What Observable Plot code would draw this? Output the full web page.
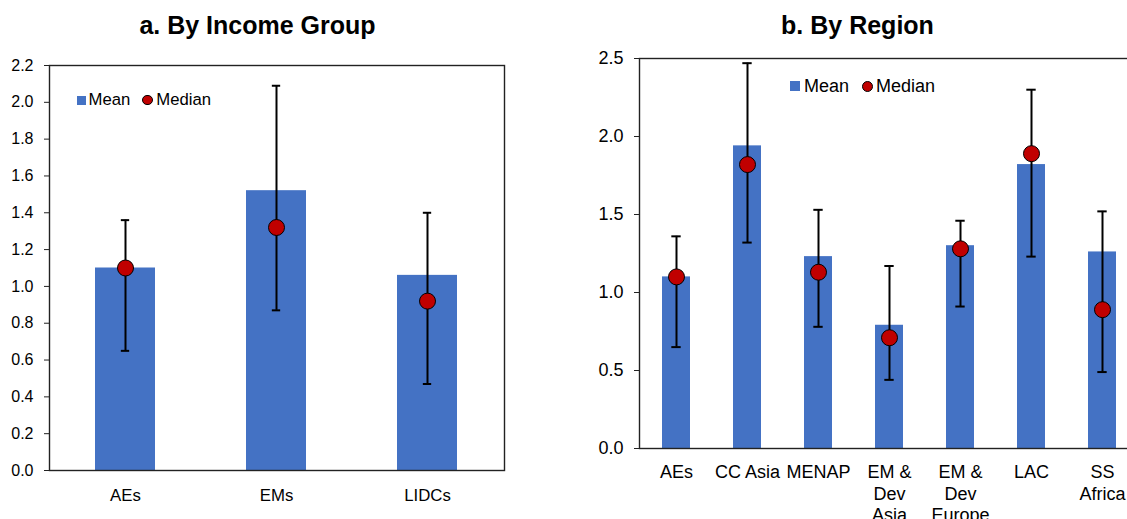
<!DOCTYPE html>
<html><head><meta charset="utf-8">
<script src="https://cdn.jsdelivr.net/npm/d3@7"></script>
<script src="https://cdn.jsdelivr.net/npm/@observablehq/plot@0.6"></script>
<style>
html,body{margin:0;padding:0;width:1127px;height:519px;overflow:hidden;background:#fff;font-family:"Liberation Sans",Arial,sans-serif;}
#page{position:relative;width:1127px;height:519px;overflow:hidden;}
.title{position:absolute;top:12.8px;width:400px;font-weight:bold;font-size:25px;line-height:25px;text-align:center;color:#000;}
.panel{position:absolute;top:40px;}
.panel svg{max-width:none !important;}
.legend{position:absolute;height:20px;display:flex;align-items:center;white-space:nowrap;color:#000;}
.sq{display:inline-block;background:#4472C4;}
.cir{display:inline-block;border-radius:50%;background:#C00000;border:1px solid #000;box-sizing:border-box;}
</style></head><body><div id="page"></div>
<script>
// ---- Panel a: by income group ----
const incomeCats = ["AEs", "EMs", "LIDCs"];
const incomeLabels = ["AEs", "EMs", "LIDCs"];
const incomeMean = [1.10, 1.52, 1.06];
const incomeMedian = [1.10, 1.32, 0.92];
const incomeLow = [0.65, 0.87, 0.47];
const incomeHigh = [1.36, 2.09, 1.40];
const incomeTicks = [0, 0.2, 0.4, 0.6, 0.8, 1.0, 1.2, 1.4, 1.6, 1.8, 2.0, 2.2];

// ---- Panel b: by region ----
const regionCats = ["AEs", "CC Asia", "MENAP", "EM & Dev Asia", "EM & Dev Europe", "LAC", "SS Africa"];
const regionLabels = ["AEs", "CC Asia", "MENAP", "EM &\nDev\nAsia", "EM &\nDev\nEurope", "LAC", "SS\nAfrica"];
const regionMean = [1.10, 1.94, 1.23, 0.79, 1.30, 1.82, 1.26];
const regionMedian = [1.10, 1.82, 1.13, 0.71, 1.28, 1.89, 0.89];
const regionLow = [0.65, 1.32, 0.78, 0.44, 0.91, 1.23, 0.49];
const regionHigh = [1.36, 2.47, 1.53, 1.17, 1.46, 2.30, 1.52];
const regionTicks = [0, 0.5, 1.0, 1.5, 2.0, 2.5];

const titles = ["a. By Income Group", "b. By Region"];
const legendLabels = ["Mean", "Median"];

const fmt = d3.format(".1f");

function panel(o) {
  const rows = o.cats.map((c, i) => ({cat: c, label: o.labels[i], mean: o.mean[i], median: o.median[i], low: o.low[i], high: o.high[i]}));
  const plotW = o.width - o.marginLeft - o.marginRight;
  const band = plotW / o.cats.length;
  const inset = (band * 0.4 - o.capWidth) / 2;
  return Plot.plot({
    width: o.width, height: o.height,
    marginLeft: o.marginLeft, marginRight: o.marginRight, marginTop: o.marginTop, marginBottom: o.marginBottom,
    style: {fontFamily: "Liberation Sans, Arial, sans-serif", fontSize: o.tickFont + "px", color: "#000", background: "transparent", overflow: "visible", maxWidth: "none"},
    x: {domain: o.cats, paddingInner: 0.6, paddingOuter: 0.3, axis: null},
    y: {domain: [0, o.ticks[o.ticks.length - 1]], axis: null},
    marks: [
      Plot.barY(rows, {x: "cat", y: "mean", fill: "#4472C4"}),
      Plot.ruleX(rows, {x: "cat", y1: "low", y2: "high", stroke: "#000", strokeWidth: 2}),
      Plot.tickY(rows, {x: "cat", y: "low", stroke: "#000", strokeWidth: 2, insetLeft: inset, insetRight: inset}),
      Plot.tickY(rows, {x: "cat", y: "high", stroke: "#000", strokeWidth: 2, insetLeft: inset, insetRight: inset}),
      Plot.dot(rows, {x: "cat", y: "median", r: 8, fill: "#C00000", stroke: "#000", strokeWidth: 1}),
      Plot.frame({stroke: "#222", strokeWidth: 1.4}),
      Plot.axisY({ticks: o.ticks, tickFormat: fmt, tickSize: 5, tickPadding: 11, fontSize: o.tickFont, stroke: "#222"}),
      Plot.text(rows, {x: "cat", text: "label", frameAnchor: "bottom", lineAnchor: "top", dy: o.labelDy, lineHeight: o.lineHeight, fontSize: o.labelFont, fill: "#000"})
    ]
  });
}

const page = document.getElementById("page");

function addTitle(text, cx) {
  const t = document.createElement("div");
  t.className = "title";
  t.style.left = (cx - 200) + "px";
  t.textContent = text;
  page.appendChild(t);
}
function addLegend(x, cy, fs, sq, gap1, cir, gap2, gap3) {
  const l = document.createElement("div");
  l.className = "legend";
  l.style.left = x + "px";
  l.style.top = (cy - 10) + "px";
  l.style.fontSize = fs + "px";
  l.innerHTML =
    '<span class="sq" style="width:' + sq + 'px;height:' + sq + 'px;margin-right:' + gap1 + 'px"></span>' +
    '<span>' + legendLabels[0] + '</span>' +
    '<span class="cir" style="width:' + cir + 'px;height:' + cir + 'px;margin-left:' + gap2 + 'px;margin-right:' + gap3 + 'px"></span>' +
    '<span>' + legendLabels[1] + '</span>';
  page.appendChild(l);
}

const a = panel({cats: incomeCats, labels: incomeLabels, mean: incomeMean, median: incomeMedian, low: incomeLow, high: incomeHigh,
  ticks: incomeTicks, width: 560, height: 479, marginLeft: 49, marginRight: 56, marginTop: 25, marginBottom: 49,
  capWidth: 9, tickFont: 16, labelFont: 16.8, labelDy: 16, lineHeight: 1.2});
const da = document.createElement("div"); da.className = "panel"; da.style.left = "0px"; da.style.width = "560px"; da.appendChild(a); page.appendChild(da);

const b = panel({cats: regionCats, labels: regionLabels, mean: regionMean, median: regionMedian, low: regionLow, high: regionHigh,
  ticks: regionTicks, width: 600, height: 479, marginLeft: 79, marginRight: 20, marginTop: 18, marginBottom: 71,
  capWidth: 10, tickFont: 18, labelFont: 18, labelDy: 15, lineHeight: 1.17});
const db = document.createElement("div"); db.className = "panel"; db.style.left = "560px"; db.style.width = "600px"; db.appendChild(b); page.appendChild(db);

addTitle(titles[0], 257.5);
addTitle(titles[1], 857.5);
addLegend(76.5, 100, 16.7, 9, 3, 10.5, 12, 3.5);
addLegend(790, 86, 18, 10, 4, 11, 13, 3);
</script>
</body></html>
